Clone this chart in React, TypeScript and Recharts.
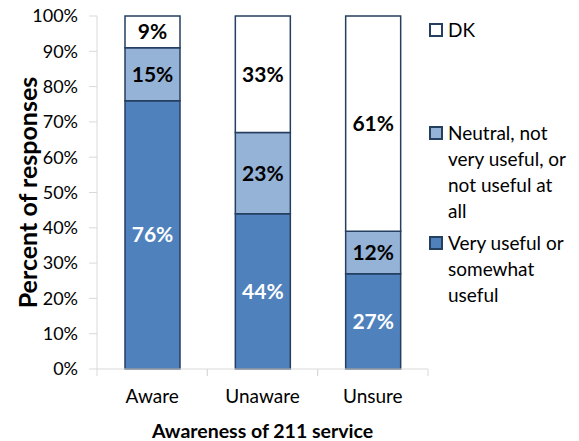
import React from "react";
import { BarChart, Bar, XAxis, YAxis, Legend, LabelList } from "recharts";

const categories = ["Aware", "Unaware", "Unsure"];
const veryUseful = [76, 44, 27];
const neutral = [15, 23, 12];
const dk = [9, 33, 61];
const yTicks = [0, 10, 20, 30, 40, 50, 60, 70, 80, 90, 100];

const legendItems = [
  { key: "dk", lines: ["DK"], fill: "#FFFFFF" },
  { key: "neutral", lines: ["Neutral, not", "very useful, or", "not useful at", "all"], fill: "#95B3D7" },
  { key: "very", lines: ["Very useful or", "somewhat", "useful"], fill: "#4F81BD" },
];

const data = categories.map((c, i) => ({
  name: c,
  very: veryUseful[i],
  neutral: neutral[i],
  dk: dk[i],
}));

const FONT = "Lato, 'Open Sans', sans-serif";
const STROKE = "#243F60";

const XTick = (props: any) => {
  const { x, y, payload } = props;
  const off = payload.offset || 0;
  return (
    <g>
      <line x1={x - off} x2={x - off} y1={y - 8} y2={y - 1} stroke="#D9D9D9" />
      <line x1={x + off} x2={x + off} y1={y - 8} y2={y - 1} stroke="#D9D9D9" />
      <text x={x} y={y + 26} textAnchor="middle" fontSize={19} fontFamily={FONT} fill="#000">
        {payload.value}
      </text>
    </g>
  );
};

const LegendContent = () => (
  <div style={{ fontFamily: FONT, fontSize: 19, color: "#000", lineHeight: "26px" }}>
    {legendItems.map((it, idx) => (
      <div
        key={it.key}
        style={{ display: "flex", alignItems: "flex-start", marginTop: idx === 0 ? 0 : idx === 1 ? 77 : 6 }}
      >
        <div
          style={{
            width: 14,
            height: 14,
            boxSizing: "border-box",
            background: it.fill,
            border: `2px solid ${STROKE}`,
            marginTop: 6,
            marginRight: 5,
            flexShrink: 0,
          }}
        />
        <div>
          {it.lines.map((l) => (
            <div key={l}>{l}</div>
          ))}
        </div>
      </div>
    ))}
  </div>
);

const YLabel = (props: any) => {
  const { viewBox } = props;
  const cx = 27;
  const cy = viewBox.y + viewBox.height / 2;
  return (
    <text
      x={cx}
      y={cy}
      transform={`rotate(-90, ${cx}, ${cy})`}
      textAnchor="middle"
      dominantBaseline="central"
      fontSize={25}
      fontWeight="bold"
      fontFamily={FONT}
      fill="#000"
    >
      Percent of responses
    </text>
  );
};

const pct = (v: any) => `${v}%`;

export default function App() {
  return (
    <div style={{ position: "absolute", left: 0, top: 0 }}>
      <BarChart
        width={579}
        height={441}
        data={data}
        margin={{ top: 16, right: 151, bottom: 12, left: 0 }}
        barSize={55}
      >
        <XAxis
          dataKey="name"
          height={60}
          interval={0}
          axisLine={{ stroke: "#D9D9D9" }}
          tickLine={false}
          tick={<XTick />}
          label={{
            value: "Awareness of 211 service",
            position: "insideBottom",
            offset: -9,
            fontSize: 19.5,
            fontWeight: "bold",
            fontFamily: FONT,
            fill: "#000",
          }}
        />
        <YAxis
          width={97}
          domain={[0, 100]}
          ticks={yTicks}
          tickFormatter={pct}
          axisLine={{ stroke: "#D9D9D9" }}
          tickLine={{ stroke: "#D9D9D9" }}
          tickSize={8}
          tickMargin={11}
          tick={{ fontSize: 18, fontFamily: FONT, fill: "#000" }}
          label={<YLabel />}
          interval={0}
        />
        <Legend
          layout="vertical"
          align="center"
          verticalAlign="middle"
          content={<LegendContent />}
          wrapperStyle={{ left: 429, top: 17, width: 150 }}
        />
        <Bar dataKey="very" stackId="a" fill="#4F81BD" stroke={STROKE} strokeWidth={1.5} isAnimationActive={false}>
          <LabelList dataKey="very" position="center" formatter={pct} fill="#FFFFFF" fontSize={21} fontWeight="bold" fontFamily={FONT} />
        </Bar>
        <Bar dataKey="neutral" stackId="a" fill="#95B3D7" stroke={STROKE} strokeWidth={1.5} isAnimationActive={false}>
          <LabelList dataKey="neutral" position="center" formatter={pct} fill="#000000" fontSize={21} fontWeight="bold" fontFamily={FONT} />
        </Bar>
        <Bar dataKey="dk" stackId="a" fill="#FFFFFF" stroke={STROKE} strokeWidth={1.5} isAnimationActive={false}>
          <LabelList dataKey="dk" position="center" formatter={pct} fill="#000000" fontSize={21} fontWeight="bold" fontFamily={FONT} />
        </Bar>
      </BarChart>
    </div>
  );
}
